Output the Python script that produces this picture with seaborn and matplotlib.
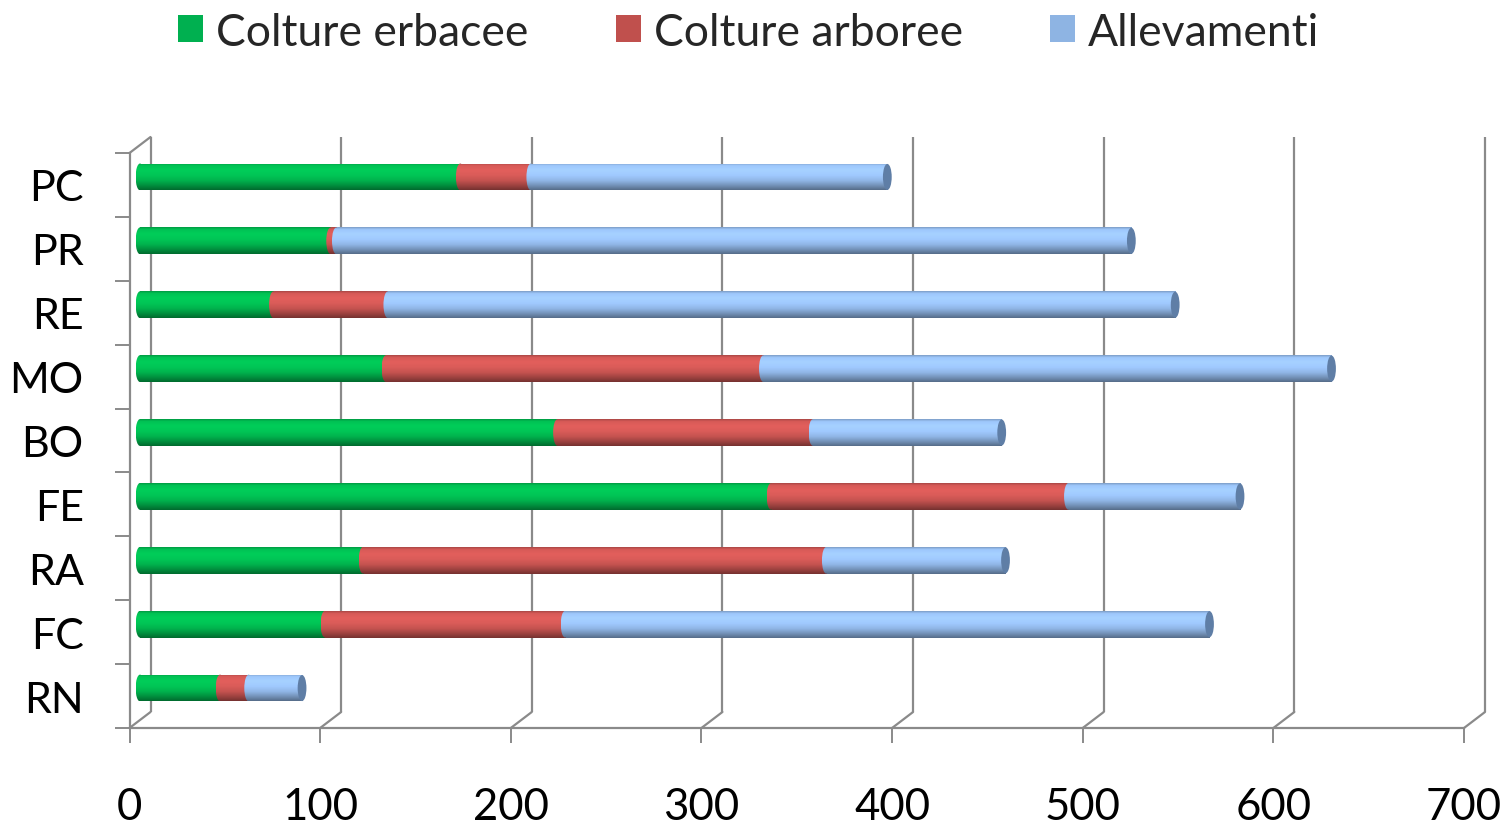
import numpy as np
import pandas as pd
import matplotlib
matplotlib.use("Agg")
import matplotlib.pyplot as plt
import seaborn as sns
from matplotlib.patches import Ellipse, Patch
from matplotlib.colors import to_rgb

# ---------------- data ----------------
categories = ["PC", "PR", "RE", "MO", "BO", "FE", "RA", "FC", "RN"]
colture_erbacee = [168, 100, 70, 129, 219, 331, 117, 97, 42]
colture_arboree = [37, 3, 60, 198, 134, 156, 243, 126, 15]
allevamenti = [187, 417, 413, 298, 99, 90, 94, 338, 28]
series_names = ["Colture erbacee", "Colture arboree", "Allevamenti"]
x_ticks = [0, 100, 200, 300, 400, 500, 600, 700]

series_colors = ["#00B050", "#C0504D", "#8EB4E3"]
bar_colors = ["#00C254", "#D65A57", "#9DC6FA"]
cap_color = "#5F7EA6"
axis_gray = "#8A8A8A"

sns.set_theme(style="white")
plt.rcParams["font.family"] = ["Lato", "DejaVu Sans"]

W, H = 1504, 828
fig = plt.figure(figsize=(W / 100, H / 100), dpi=100)
fig.patch.set_facecolor("white")

# front frame axes
ax = fig.add_axes([129.5 / W, (H - 729) / H, (1464 - 129.5) / W, (729 - 154) / H])
# bar axes (bars sit at mid depth of the 3D box); small left margin for the rounded starts
scale = (1464 - 129.5) / 700
margin = 10
ax2_left = 140 - margin * scale
ax2 = fig.add_axes([ax2_left / W, (H - 721) / H, (700 + margin) * scale / W, (729 - 154) / H])
ax2.patch.set_alpha(0)

df = pd.DataFrame({
    "cat": categories,
    "erb": colture_erbacee,
    "arb": colture_arboree,
    "all": allevamenti,
})
df["c1"] = df["erb"]
df["c2"] = df["erb"] + df["arb"]
df["c3"] = df["erb"] + df["arb"] + df["all"]

layers = [("c3", 2), ("c2", 1), ("c1", 0)]
layer_patches = {}
for col, idx in layers:
    n0 = len(ax2.patches)
    sns.barplot(data=df, x=col, y="cat", orient="h", order=categories,
                color=bar_colors[idx], saturation=1, width=0.42,
                linewidth=0, ax=ax2)
    layer_patches[idx] = ax2.patches[n0:]

# cylinder shading profile (top -> bottom)
prof_pos = np.array([0.0, 0.08, 0.25, 0.45, 0.65, 0.85, 1.0])
prof_fac = np.array([0.80, 1.00, 1.06, 1.02, 0.92, 0.72, 0.55])


def gradient_fill(axis, clip, x0, x1, y0, y1, base, z):
    t = np.linspace(0, 1, 64)
    f = np.interp(t, prof_pos, prof_fac)
    rgb = np.clip(np.array(to_rgb(base))[None, :] * f[:, None], 0, 1)
    img = rgb[:, None, :]
    im = axis.imshow(img, extent=(x0, x1, y1, y0), origin="upper",
                     aspect="auto", interpolation="bilinear", zorder=z)
    im.set_clip_path(clip)


cap_w = 4.6  # ellipse width in data units (~9 px)
for idx in (2, 1, 0):
    for p in layer_patches[idx]:
        p.set_zorder(2 + (2 - idx))
        x0, y0 = p.get_x(), p.get_y()
        w, h = p.get_width(), p.get_height()
        gradient_fill(ax2, p, x0, x0 + w, y0, y0 + h, bar_colors[idx], p.get_zorder() + 0.5)

# rounded starts of each segment and end caps
for i, cat in enumerate(categories):
    p0 = layer_patches[0][i]
    yc = p0.get_y() + p0.get_height() / 2
    hh = p0.get_height()
    starts = [0, df.loc[i, "c1"], df.loc[i, "c2"]]
    for idx in range(3):
        e = Ellipse((starts[idx], yc), cap_w, hh, facecolor="none", edgecolor="none",
                    zorder=10 + idx)
        ax2.add_patch(e)
        gradient_fill(ax2, e, starts[idx] - cap_w / 2, starts[idx] + cap_w / 2,
                      yc - hh / 2, yc + hh / 2, bar_colors[idx], 10.5 + idx)
    end = Ellipse((df.loc[i, "c3"], yc), cap_w, hh * 0.97, facecolor=cap_color,
                  edgecolor="none", zorder=20)
    ax2.add_patch(end)

ax2.set_xlim(-margin, 700)
ax2.set_ylim(8.5, -0.5)
ax2.set_axis_off()

# ---------------- front frame ----------------
ax.set_xlim(0, 700)
ax.set_ylim(8.5, -0.5)
ax.set_facecolor("none")
for s in ["top", "right"]:
    ax.spines[s].set_visible(False)
for s in ["left", "bottom"]:
    ax.spines[s].set_color(axis_gray)
    ax.spines[s].set_linewidth(1.6)

ax.set_xticks(x_ticks)
ax.set_xticklabels([str(v) for v in x_ticks])
ax.tick_params(axis="x", direction="out", length=10.5, width=1.4, color=axis_gray,
               labelsize=31.5, pad=31, labelcolor="black", bottom=True)
ax.set_yticks(range(len(categories)))
ax.set_yticklabels(categories)
ax.set_yticks(np.arange(-0.5, len(categories), 1.0), minor=True)
ax.tick_params(axis="y", which="major", length=0, labelsize=31, pad=33, labelcolor="black")
ax.tick_params(axis="y", which="minor", direction="out", length=11, width=1.4,
               color=axis_gray, left=True)
ax.grid(False)

# 3D back-wall grid lines derived from the axis layout
ax_w_px = 1464 - 129.5
ax_h_px = 729 - 154
dx = 21 * 700 / ax_w_px
dy = 16 * len(categories) / ax_h_px
for v in x_ticks:
    ax.plot([v + dx, v + dx], [8.5 - dy, -0.5 - dy], color=axis_gray, lw=1.6,
            clip_on=False, zorder=1, solid_capstyle="butt")
    ax.plot([v, v + dx], [8.5, 8.5 - dy], color=axis_gray, lw=1.6, clip_on=False, zorder=1)
ax.plot([0, dx], [-0.5, -0.5 - dy], color=axis_gray, lw=1.6, clip_on=False, zorder=1)

# ---------------- legend ----------------
fs = 32
em = fs * 100 / 72
handles = [Patch(facecolor=c, edgecolor="none") for c in series_colors]
fig.legend(handles, series_names, loc="center", bbox_to_anchor=(748.5 / W, 1 - 33 / H),
           ncol=3, frameon=False, fontsize=fs, handlelength=25 / em, handleheight=25 / em,
           handletextpad=13 / em, columnspacing=87 / em, borderpad=0, borderaxespad=0)

fig.savefig("out.png", dpi=100)
